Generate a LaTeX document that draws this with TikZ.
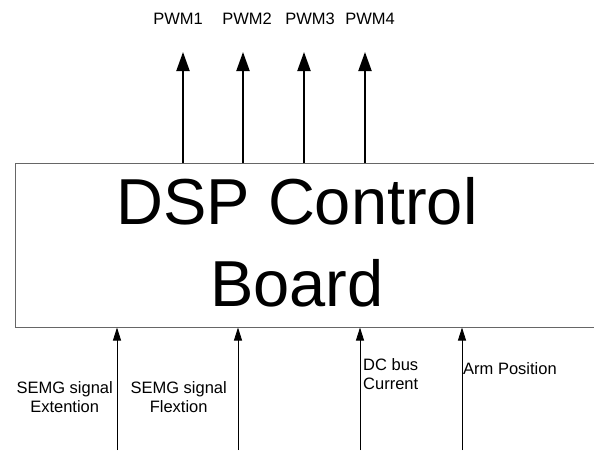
\documentclass[tikz,border=0pt]{standalone}
\usepackage{fontspec}
\setmainfont{Liberation Sans}
\usetikzlibrary{arrows.meta}

\begin{document}
\begin{tikzpicture}[
 x=1pt, y=-1pt,
 inner sep=0pt,
 main/.style={draw=black!60,line width=1pt,rectangle,minimum width=590pt,minimum height=164pt},
 title/.style={font=\fontsize{65}{82}\selectfont,align=center},
 lbl/.style={font=\fontsize{16.5}{19}\selectfont},
 pwmarrow/.style={line width=2pt,-{Triangle[width=13pt,length=19pt]}},
 sigarrow/.style={line width=0.8pt,-{Triangle[width=8pt,length=13pt]}}
]
\useasboundingbox (0,0) rectangle (594,450);
\clip (0,0) rectangle (594,450);
\node (board) [main] at (310,245) {};
\node (title) [title] at (297,242) {DSP Control\\Board};
% outputs
\coordinate (p1) at (183,52);
\coordinate (p2) at (243,52);
\coordinate (p3) at (304,52);
\coordinate (p4) at (365,52);
\node (pwm1) [lbl] at (178,19) {PWM1};
\node (pwm2) [lbl] at (247,19) {PWM2};
\node (pwm3) [lbl] at (310,19) {PWM3};
\node (pwm4) [lbl] at (370,19) {PWM4};
\draw[pwmarrow] (board.north -| p1) -- (p1);
\draw[pwmarrow] (board.north -| p2) -- (p2);
\draw[pwmarrow] (board.north -| p3) -- (p3);
\draw[pwmarrow] (board.north -| p4) -- (p4);
% inputs
\coordinate (s1) at (117,450);
\coordinate (s2) at (238,450);
\coordinate (s3) at (360,450);
\coordinate (s4) at (462,450);
\draw[sigarrow] (s1) -- (s1 |- board.south);
\draw[sigarrow] (s2) -- (s2 |- board.south);
\draw[sigarrow] (s3) -- (s3 |- board.south);
\draw[sigarrow] (s4) -- (s4 |- board.south);
\node (ext) [lbl,align=center,anchor=east] at (113,397) {SEMG signal\\Extention};
\node (flex) [lbl,align=center,anchor=east] at (227,397) {SEMG signal\\Flextion};
\node (dcbus) [lbl,align=left,anchor=west] at (363,374) {DC bus\\Current};
\node (armpos) [lbl,anchor=west] at (463,369) {Arm Position};
\end{tikzpicture}
\end{document}
